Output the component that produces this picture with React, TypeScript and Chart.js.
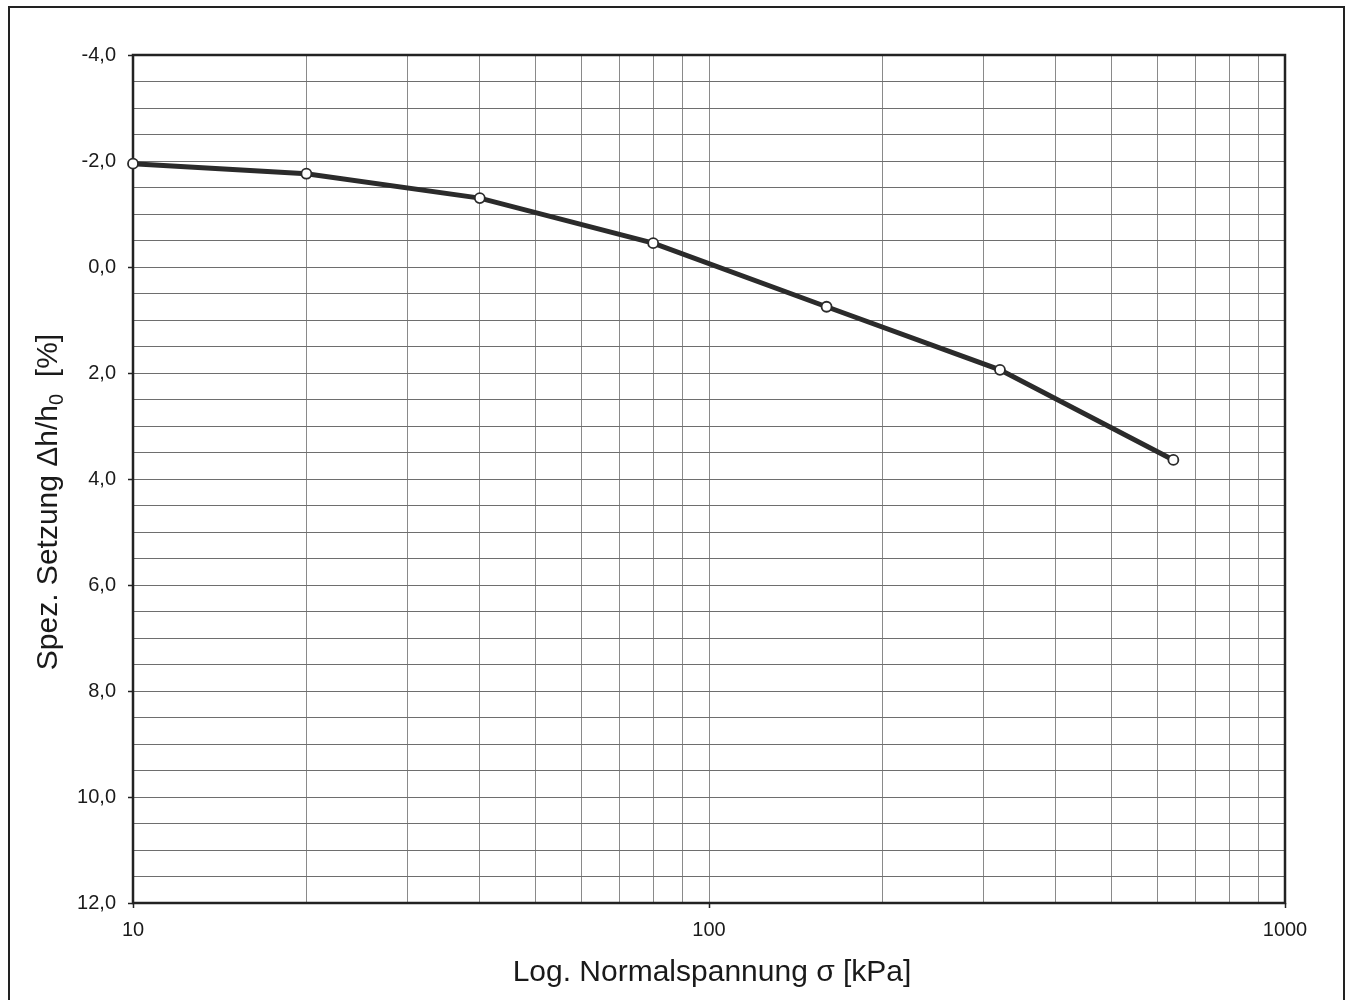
import React, { useEffect, useRef } from 'react';
import { Chart, registerables } from 'chart.js';

Chart.register(...registerables);

// ---- data ----
const stressKPa = [10, 20, 40, 80, 160, 320, 640];
const settlementPct = [-1.95, -1.76, -1.3, -0.45, 0.75, 1.94, 3.64];

// ---- axes ----
const xGridValues = [10, 20, 30, 40, 50, 60, 70, 80, 90, 100, 200, 300, 400, 500, 600, 700, 800, 900, 1000];
const xLabelValues = [10, 100, 1000];
const yMin = -4;
const yMax = 12;
const yGridStep = 0.5;
const yLabelStep = 2;
const xTitle = 'Log. Normalspannung σ [kPa]';
const yTitleMain = 'Spez. Setzung Δh/h';
const yTitleSub = '0';
const yTitleTail = '  [%]';

const FONT = '"Liberation Sans", Arial, Helvetica, sans-serif';

const isYLabel = (v: number) => Math.abs(v / yLabelStep - Math.round(v / yLabelStep)) < 1e-6;

const decorPlugin = {
  id: 'decor',
  beforeDraw(chart: any) {
    const ctx = chart.ctx;
    ctx.save();
    ctx.fillStyle = '#ffffff';
    ctx.fillRect(0, 0, chart.width, chart.height);
    ctx.restore();
  },
  beforeDatasetsDraw(chart: any) {
    const ctx = chart.ctx;
    const a = chart.chartArea;
    ctx.save();
    ctx.strokeStyle = '#222222';
    ctx.lineWidth = 2.5;
    ctx.strokeRect(a.left, a.top, a.right - a.left, a.bottom - a.top);
    ctx.restore();
  },
  afterDraw(chart: any) {
    const ctx = chart.ctx;
    const a = chart.chartArea;
    ctx.save();
    // outer frame
    ctx.strokeStyle = '#222222';
    ctx.lineWidth = 2;
    ctx.strokeRect(9, 7, 1335, 1100);

    // x title
    ctx.fillStyle = '#1a1a1a';
    ctx.font = `30px ${FONT}`;
    ctx.textAlign = 'left';
    ctx.textBaseline = 'alphabetic';
    const xw = ctx.measureText(xTitle).width;
    ctx.fillText(xTitle, (a.left + a.right) / 2 + 3 - xw / 2, 981);

    // y title (rotated, with subscript)
    const mainFont = `30px ${FONT}`;
    const subFont = `20px ${FONT}`;
    ctx.font = mainFont;
    const w1 = ctx.measureText(yTitleMain).width;
    const w3 = ctx.measureText(yTitleTail).width;
    ctx.font = subFont;
    const w2 = ctx.measureText(yTitleSub).width;
    const total = w1 + w2 + w3;
    ctx.translate(57, 502);
    ctx.rotate(-Math.PI / 2);
    let x = -total / 2;
    ctx.font = mainFont;
    ctx.fillText(yTitleMain, x, 0);
    x += w1;
    ctx.font = subFont;
    ctx.fillText(yTitleSub, x, 6);
    x += w2;
    ctx.font = mainFont;
    ctx.fillText(yTitleTail, x, 0);
    ctx.restore();
  },
};

export default function App() {
  const canvasRef = useRef<HTMLCanvasElement | null>(null);

  useEffect(() => {
    const canvas = canvasRef.current;
    if (!canvas) return;
    const chart = new Chart(canvas, {
      type: 'line',
      data: {
        datasets: [
          {
            data: stressKPa.map((x, i) => ({ x, y: settlementPct[i] })),
            borderColor: '#2b2b2b',
            borderWidth: 5,
            pointRadius: 5,
            pointBackgroundColor: '#ffffff',
            pointBorderColor: '#2b2b2b',
            pointBorderWidth: 1.8,
            tension: 0,
            clip: false as any,
          },
        ],
      },
      options: {
        animation: false,
        responsive: false,
        devicePixelRatio: 1,
        layout: { padding: { top: 55, right: 67, left: 0, bottom: 0 } },
        plugins: {
          legend: { display: false },
          tooltip: { enabled: false },
          title: { display: false },
        },
        scales: {
          x: {
            type: 'logarithmic',
            min: 10,
            max: 1000,
            afterBuildTicks: (scale: any) => {
              scale.ticks = xGridValues.map((v) => ({ value: v }));
            },
            afterFit: (scale: any) => {
              scale.height = 97;
            },
            border: { display: false },
            grid: {
              color: '#8a8a8a',
              lineWidth: 1,
              drawTicks: true,
              tickLength: 5,
              tickWidth: 1.5,
              tickColor: (ctx: any) =>
                ctx.tick && xLabelValues.includes(ctx.tick.value) ? '#222222' : 'rgba(0,0,0,0)',
            },
            ticks: {
              autoSkip: false,
              maxRotation: 0,
              minRotation: 0,
              padding: 10,
              color: '#1a1a1a',
              font: { family: FONT, size: 20 },
              callback: (value: any) => (xLabelValues.includes(Number(value)) ? String(value) : ''),
            },
          },
          y: {
            type: 'linear',
            reverse: true,
            min: yMin,
            max: yMax,
            afterBuildTicks: (scale: any) => {
              const t: any[] = [];
              for (let v = yMin; v <= yMax + 1e-9; v += yGridStep) t.push({ value: Math.round(v * 10) / 10 });
              scale.ticks = t;
            },
            afterFit: (scale: any) => {
              scale.width = 133;
            },
            border: { display: false },
            grid: {
              color: '#6e6e6e',
              lineWidth: 1,
              drawTicks: true,
              tickLength: 5,
              tickWidth: 1.5,
              tickColor: (ctx: any) => (ctx.tick && isYLabel(ctx.tick.value) ? '#222222' : 'rgba(0,0,0,0)'),
            },
            ticks: {
              autoSkip: false,
              padding: 12,
              color: '#1a1a1a',
              font: { family: FONT, size: 20 },
              callback: (value: any) => {
                const v = Number(value);
                return isYLabel(v) ? v.toFixed(1).replace('.', ',') : '';
              },
            },
          },
        },
      },
      plugins: [decorPlugin],
    } as any);
    return () => chart.destroy();
  }, []);

  return (
    <div style={{ position: 'absolute', left: 0, top: 0, width: 1352, height: 1000, background: '#fff' }}>
      <canvas ref={canvasRef} width={1352} height={1000} style={{ display: 'block', width: 1352, height: 1000 }} />
    </div>
  );
}
